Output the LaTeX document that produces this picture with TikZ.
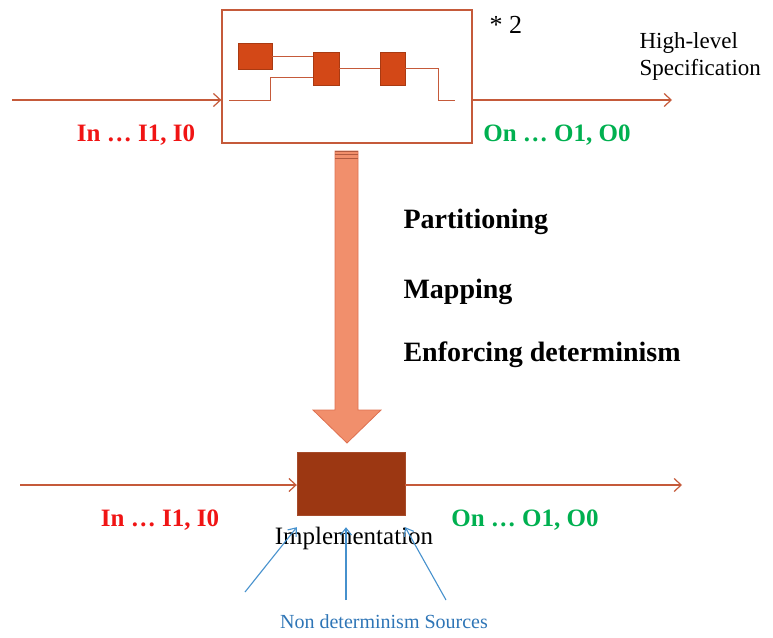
\documentclass[tikz,border=0pt]{standalone}
\usepackage{fontspec}
\setmainfont{Liberation Serif}
\usepackage{tikz}
\usetikzlibrary{arrows.meta}
\usepackage{xcolor}
\definecolor{ColWire}{RGB}{197,90,58}
\definecolor{ColSq}{RGB}{211,72,23}
\definecolor{ColImpl}{RGB}{156,55,18}
\definecolor{ColBig}{RGB}{241,143,108}
\definecolor{ColBigLine}{RGB}{222,112,80}
\definecolor{ColIn}{RGB}{240,20,20}
\definecolor{ColOut}{RGB}{0,176,80}
\definecolor{ColNd}{RGB}{46,117,182}
\definecolor{ColNdArr}{RGB}{70,145,205}
\tikzstyle{Wire}=[ColWire,line width=1.2pt]
\tikzstyle{WireArrow}=[Wire,-{Straight Barb[length=7pt,width=13pt]}]
\tikzstyle{SpecBox}=[draw=ColWire,line width=1.3pt,minimum width=250pt,minimum height=133pt,inner sep=0pt]
\tikzstyle{SqNode}=[draw=ColSq!80!black,fill=ColSq,line width=0.6pt,inner sep=0pt]
\tikzstyle{ImplBox}=[fill=ColImpl,draw=ColImpl!90!white,minimum width=108pt,minimum height=63pt,inner sep=0pt]
\tikzstyle{BigArrow}=[draw=ColBigLine,fill=ColBig,line width=0.8pt]
\tikzstyle{NdArrow}=[ColNdArr,line width=1.1pt,-{Straight Barb[length=7pt,width=11pt]}]
\tikzstyle{InLabel}=[text=ColIn,font=\fontsize{25}{30}\selectfont\bfseries]
\tikzstyle{OutLabel}=[text=ColOut,font=\fontsize{25}{30}\selectfont\bfseries]
\tikzstyle{StepLabel}=[anchor=west,font=\fontsize{28}{33}\selectfont\bfseries]

\begin{document}
\begin{tikzpicture}[x=1pt,y=-1pt]
        \useasboundingbox (0,0) rectangle (773,637);
        % high-level specification
        \node[SpecBox](spec)at(347,76.5){};
        \node[SqNode,minimum width=34pt,minimum height=26pt](sqa)at(255,56){};
        \node[SqNode,minimum width=26pt,minimum height=33pt](sqb)at(326,68.5){};
        \node[SqNode,minimum width=25pt,minimum height=33pt](sqc)at(392.5,68.5){};
        \coordinate(innerin)at(229,100);
        \coordinate(innerout)at(455,100);
        \draw[Wire,line width=1pt](sqa.east)--(sqa.east-|sqb.west);
        \draw[Wire,line width=1pt](innerin)-|(270,77)--(313,77);
        \draw[Wire,line width=1pt](sqb.east)--(sqc.west);
        \draw[Wire,line width=1pt](sqc.east)-|(438,100)--(innerout);
        \coordinate(specin)at(12,100);
        \coordinate(specout)at(672,100);
        \draw[WireArrow](specin)--(specin-|spec.west);
        \draw[WireArrow](specout-|spec.east)--(specout);
        \node[font=\fontsize{26}{30}\selectfont,anchor=west](times)at(486,25){* 2};
        \node[font=\fontsize{23}{27}\selectfont,align=left,anchor=west](hl)at(636,56){High-level\\Specification};
        \node[InLabel](ina)at(136,135){In … I1, I0};
        \node[OutLabel](outa)at(557,135){On … O1, O0};
        % refinement arrow
        \draw[BigArrow](335,151)--(335,410)--(313,410)--(347,443)--(381,410)--(358,410)--(358,151)--cycle;
        \foreach \y in {151,154.5,158}
            \draw[ColBigLine!80!black,line width=0.8pt](335,\y)--(358,\y);
        \node[StepLabel](part)at(400,222){Partitioning};
        \node[StepLabel](map)at(400,292){Mapping};
        \node[StepLabel](enf)at(400,355){Enforcing determinism};
        % implementation
        \node[ImplBox](impl)at(351,483.5){};
        \coordinate(implin)at(20,485);
        \coordinate(implout)at(682,485);
        \draw[WireArrow](implin)--(implin-|impl.west);
        \draw[WireArrow](implout-|impl.east)--(implout);
        \node[InLabel](inb)at(160,520){In … I1, I0};
        \node[OutLabel](outb)at(525,520){On … O1, O0};
        \node[font=\fontsize{25}{29}\selectfont](impllabel)at(354,538){Implementation};
        \node[text=ColNd,font=\fontsize{20}{24}\selectfont](nd)at(384,622){Non determinism Sources};
        \coordinate(nda)at(245,592);
        \coordinate(ndb)at(346,600);
        \coordinate(ndc)at(446,600);
        \draw[NdArrow](nda)--([yshift=-12pt]impl.south west);
        \draw[NdArrow](ndb)--([yshift=-12pt]impl.south-|ndb);
        \draw[NdArrow](ndc)--([yshift=-12pt]impl.south east);
    \end{tikzpicture}
\end{document}
